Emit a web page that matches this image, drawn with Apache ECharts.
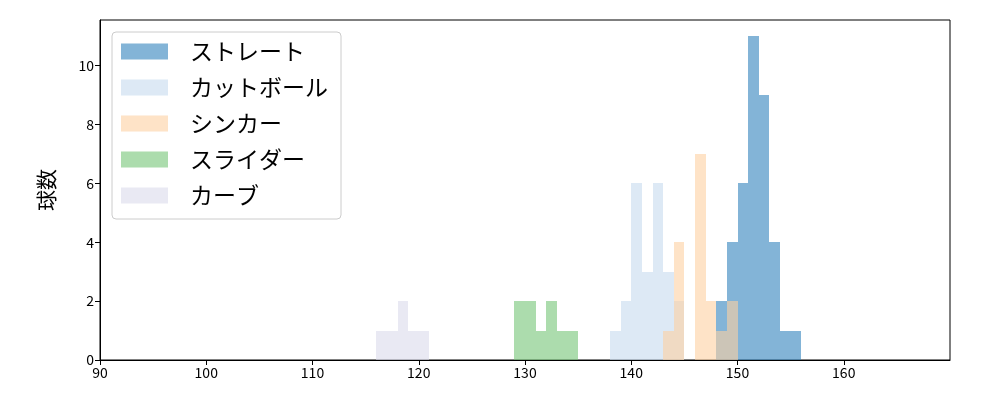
<!DOCTYPE html>
<html>
<head>
<meta charset="utf-8">
<script src="https://cdn.jsdelivr.net/npm/echarts@6/dist/echarts.min.js"></script>
<style>html,body{margin:0;padding:0;background:#fff;}#chart{width:1000px;height:400px;}</style>
</head>
<body>
<div id="chart"></div>
<script>
// Pitch-speed histograms (bin start in km/h, count per 1 km/h bin)
const seriesNames = ['ストレート', 'カットボール', 'シンカー', 'スライダー', 'カーブ'];
const straightBins = [148, 149, 150, 151, 152, 153, 154, 155];
const straightCounts = [2, 4, 6, 11, 9, 4, 1, 1];
const cutterBins = [138, 139, 140, 141, 142, 143, 144];
const cutterCounts = [1, 2, 6, 3, 6, 3, 2];
const sinkerBins = [143, 144, 145, 146, 147, 148, 149];
const sinkerCounts = [1, 4, 0, 7, 2, 1, 2];
const sliderBins = [129, 130, 131, 132, 133, 134];
const sliderCounts = [2, 2, 1, 2, 1, 1];
const curveBins = [116, 117, 118, 119, 120];
const curveCounts = [1, 1, 2, 1, 1];
const binWidth = 1;
const xTicks = [90, 100, 110, 120, 130, 140, 150, 160];
const yTicks = [0, 2, 4, 6, 8, 10];

const colors = ['rgba(49,130,189,0.6)', 'rgba(198,219,239,0.6)', 'rgba(253,208,162,0.6)',
                'rgba(116,196,118,0.6)', 'rgba(218,218,235,0.6)'];
const allBins = [straightBins, cutterBins, sinkerBins, sliderBins, curveBins];
const allCounts = [straightCounts, cutterCounts, sinkerCounts, sliderCounts, curveCounts];

const FONT = '"Noto Sans CJK JP", "Noto Sans", sans-serif';

const series = seriesNames.map((name, i) => ({
  name: name,
  type: 'custom',
  clip: true,
  itemStyle: { color: colors[i] },
  data: allBins[i].map((b, j) => [b, allCounts[i][j]]).filter(d => d[1] > 0),
  renderItem: function (params, api) {
    const x0 = api.value(0), c = api.value(1);
    const p0 = api.coord([x0, c]);
    const p1 = api.coord([x0 + binWidth, 0]);
    const xa = Math.round(p0[0]), xb = Math.round(p1[0]);
    const ya = Math.round(p0[1]), yb = Math.round(p1[1]);
    return {
      type: 'rect',
      shape: { x: xa, y: ya, width: xb - xa, height: yb - ya },
      style: { fill: colors[i] }
    };
  }
}));

const chart = echarts.init(document.getElementById('chart'), null, { renderer: 'canvas' });
chart.setOption({
  animation: false,
  backgroundColor: '#fff',
  grid: { left: 100, right: 50, top: 20, bottom: 40, show: true, borderColor: '#000', borderWidth: 1, backgroundColor: 'transparent' },
  legend: {
    left: 112, top: 32, orient: 'vertical',
    padding: [7, 13, 11, 9],
    itemWidth: 47, itemHeight: 16, itemGap: 11,
    icon: 'rect',
    backgroundColor: 'rgba(255,255,255,0.8)',
    borderColor: '#cccccc', borderWidth: 1, borderRadius: 4,
    textStyle: { fontFamily: FONT, fontSize: 23, color: '#000', lineHeight: 25, padding: [0, 0, 0, 17] },
    data: seriesNames.map((n, i) => ({ name: n, itemStyle: { color: colors[i] } }))
  },
  xAxis: {
    type: 'value', min: xTicks[0], max: 170, interval: 10,
    axisLine: { show: true, lineStyle: { color: '#000', width: 1 } },
    axisTick: { show: true, length: 5, lineStyle: { color: '#000' } },
    axisLabel: { show: true, showMaxLabel: false, margin: 6, fontFamily: FONT, fontSize: 14, color: '#000' },
    splitLine: { show: false }
  },
  yAxis: {
    type: 'value', min: 0, max: 11.55, interval: 2,
    name: '球数', nameLocation: 'middle', nameGap: 43, nameRotate: 90,
    nameTextStyle: { fontFamily: FONT, fontSize: 21, color: '#000' },
    axisLine: { show: true, lineStyle: { color: '#000', width: 1 } },
    axisTick: { show: true, length: 5, lineStyle: { color: '#000' } },
    axisLabel: { show: true, showMaxLabel: false, margin: 6, fontFamily: FONT, fontSize: 14, color: '#000',
      formatter: v => yTicks.indexOf(v) >= 0 ? String(v) : '' },
    splitLine: { show: false }
  },
  series: series
});
</script>
</body>
</html>
